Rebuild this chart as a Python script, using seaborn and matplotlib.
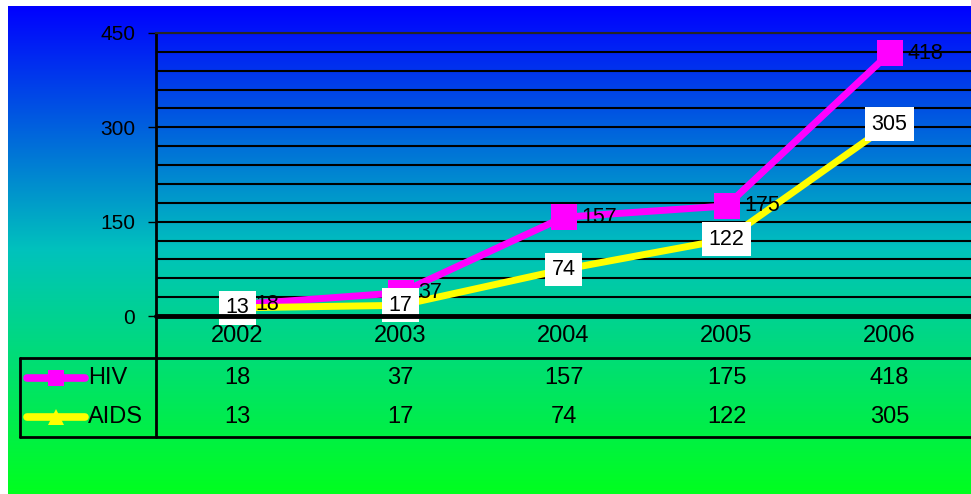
import numpy as np
import pandas as pd
import matplotlib
matplotlib.use("Agg")
import matplotlib.pyplot as plt
import seaborn as sns
from matplotlib.colors import LinearSegmentedColormap
from matplotlib.ticker import MultipleLocator
from matplotlib.transforms import blended_transform_factory

# Data
years = ["2002", "2003", "2004", "2005", "2006"]
hiv = [18, 37, 157, 175, 418]
aids = [13, 17, 74, 122, 305]
series_names = ["HIV", "AIDS"]
series_colors = ["#FF00FF", "#FFFF00"]

df = pd.DataFrame({"year": years * 2,
                   "cases": hiv + aids,
                   "series": ["HIV"] * len(years) + ["AIDS"] * len(years)})

sns.set_style("white")
plt.rcParams["font.family"] = ["Liberation Sans", "DejaVu Sans"]
plt.rcParams["font.size"] = 15
plt.rcParams["text.color"] = "black"
plt.rcParams["ytick.labelcolor"] = "black"
plt.rcParams["ytick.color"] = "black"

W, H = 971, 494
fig = plt.figure(figsize=(W / 100, H / 100), dpi=100)
fig.patch.set_facecolor("white")

# Gradient background (blue top -> green bottom)
bg = fig.add_axes([8 / W, 0, 1 - 8 / W, 1 - 6 / H])
cmap = LinearSegmentedColormap.from_list(
    "bg", [(0, (0, 0, 1)), (0.5, (0, 0.76, 0.74)), (1, (0, 1, 0.12))])
bg.imshow(np.linspace(0, 1, 256).reshape(-1, 1), aspect="auto", cmap=cmap,
          extent=[0, 1, 0, 1], origin="upper")
bg.set_axis_off()

# Main plot area
x0, x1, ytop, yzero = 156, 971, 33, 316
ax = fig.add_axes([x0 / W, 1 - yzero / H, (x1 - x0) / W, (yzero - ytop) / H])
ax.set_facecolor("none")
for s in ax.spines.values():
    s.set_visible(False)
ax.spines["top"].set_visible(True)
ax.spines["top"].set_linewidth(1.5)

sns.lineplot(data=df, x="year", y="cases", hue="series", style="series",
             palette=dict(zip(series_names, series_colors)),
             markers={"HIV": "s", "AIDS": "^"}, dashes=False,
             markersize=19, markeredgewidth=0, linewidth=5,
             legend=False, ax=ax, zorder=3)

ax.set_xlim(-0.5, len(years) - 0.5)
ax.set_ylim(0, 450)
ax.set_yticks([0, 150, 300, 450])
ax.yaxis.set_minor_locator(MultipleLocator(30))
ax.grid(which="both", axis="y", color="black", linewidth=1.5, zorder=1)
ax.set_axisbelow(True)
ax.tick_params(axis="y", which="major", length=6, width=1,
               pad=9, labelsize=15, left=True)
ax.tick_params(axis="y", which="minor", length=0)
ax.tick_params(axis="x", bottom=False, labelbottom=False)
ax.set_xlabel("")
ax.set_ylabel("")

# Zero line
ax.axhline(0, color="black", linewidth=3.5, zorder=6, clip_on=False)

# Point labels
for i, v in enumerate(hiv):
    ax.annotate(str(v), (i, v), xytext=(13, 0), textcoords="offset points",
                ha="left", va="center", fontsize=15.5, zorder=5)
for i, v in enumerate(aids):
    ax.text(i, v, str(v), ha="center", va="center", fontsize=15.5, zorder=5,
            bbox=dict(boxstyle="square,pad=0.3", fc="white", ec="none"))

# Data table below the plot
tr = blended_transform_factory(ax.transData, ax.transAxes)
pxh = yzero - ytop
def ay(py):
    return (yzero - py) / pxh
def ax_x(px):
    return (px - x0) / (x1 - x0)

lk = dict(color="black", linewidth=2, transform=ax.transAxes, clip_on=False)
ax.plot([0, 0], [1, ay(437)], **lk)
ax.plot([ax_x(20), 1], [ay(358), ay(358)], **lk)
ax.plot([ax_x(20), 1], [ay(437), ay(437)], **lk)
ax.plot([ax_x(20), ax_x(20)], [ay(358), ay(437)], **lk)

for i, yr in enumerate(years):
    ax.text(i, ay(336), yr, transform=tr, ha="center", va="center", fontsize=17)
row_y = [ay(378), ay(417)]
for vals, ry in zip([hiv, aids], row_y):
    for i, v in enumerate(vals):
        ax.text(i, ry, str(v), transform=tr, ha="center", va="center", fontsize=17)

# Legend keys in the table
key_markers = ["s", "^"]
key_sizes = [11, 11]
for name, col, mk, ms, ry in zip(series_names, series_colors, key_markers, key_sizes, row_y):
    ax.plot([ax_x(27), ax_x(85)], [ry, ry], color=col, linewidth=5.5,
            solid_capstyle="round", transform=ax.transAxes, clip_on=False)
    ax.plot([ax_x(56)], [ry], marker=mk, color=col, markersize=ms,
            markeredgewidth=0, transform=ax.transAxes, clip_on=False)
    ax.text(ax_x(88), ry, name, transform=ax.transAxes, ha="left",
            va="center", fontsize=17)

fig.savefig("out.png", dpi=100, facecolor="white")
